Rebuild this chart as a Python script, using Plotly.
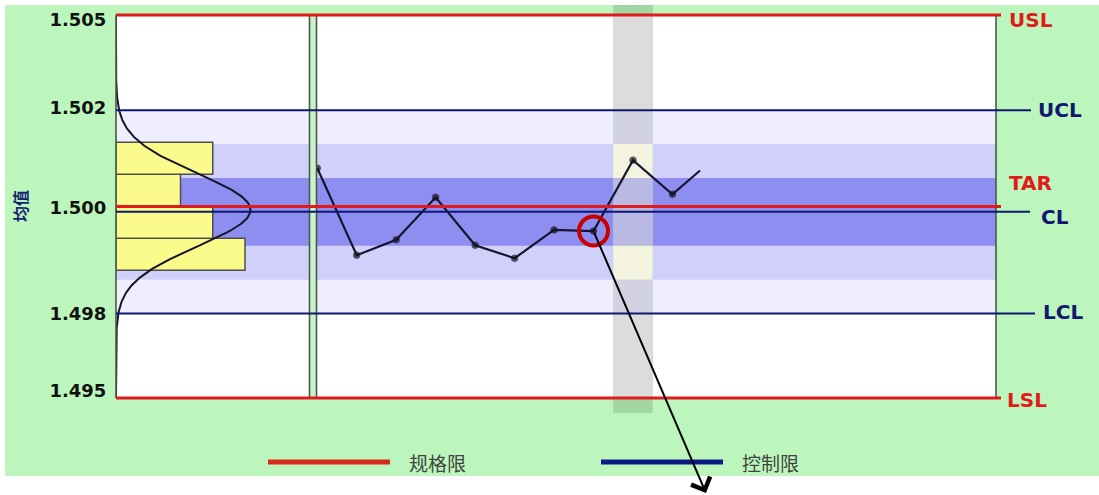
import numpy as np
import plotly.graph_objects as go

# ---------------- data ----------------
samples = [1, 2, 3, 4, 5, 6, 7, 8, 9, 10, 10.7]
sample_means = [1.50100, 1.49873, 1.49913, 1.50024, 1.49899, 1.49865,
                1.49939, 1.49936, 1.50121, 1.50032, 1.50094]

USL = 1.505
LSL = 1.495
TAR = 1.500
CL = 1.49986
SIGMA = 0.000885
UCL = CL + 3 * SIGMA
LCL = CL - 3 * SIGMA

hist_edges = [1.498334, 1.499170, 1.500005, 1.500841, 1.501676]
hist_counts = [4, 3, 2, 3]

curve_mean = 1.49991
curve_sigma = 0.00095
curve_peak = 4.17

tick_values = [1.50487, 1.50259, 1.49996, 1.49719, 1.49518]
tick_labels = ["1.505", "1.502", "1.500", "1.498", "1.495"]

limit_names = ["USL", "UCL", "TAR", "CL", "LCL", "LSL"]
legend_labels = ["规格限", "控制限"]
y_title = "均值"

highlight_sample = 9      # shaded column
flagged_index = 7         # circled point (0-based)

# ---------------- styling / layout constants ----------------
W, H = 1099, 495
ML, MR, MT, MB = 116, 103, 5, 82
Y_RANGE = [1.49461, 1.50526]
X2_DOMAIN = [0.0, 0.21989]
X_DOMAIN = [0.22784, 1.0]
X_RANGE = [0.98, 18.2]
X2_RANGE = [0, 6]

GREEN = "#bdf6bd"
RED = "#e11b1b"
NAVY = "#0f1770"
BAND_LIGHT = "#eeeefd"
BAND_MED = "#d0d0fa"
BAND_DARK = "#8e8ef1"
COL_MARGIN = "#a3d6a3"
COL_WHITE = "#dcdcdc"
COL_LIGHT = "#d2d2e2"
COL_MED = "#f3f3df"
COL_DARK = "#b9b9e3"

def px_to_paper_y(py):
    return (H - MB - py) / (H - MT - MB)

def px_to_paper_x(px):
    return (px - ML) / (W - ML - MR)

fig = go.Figure()

# histogram (horizontal bars)
edges = np.array(hist_edges)
centers = (edges[:-1] + edges[1:]) / 2
bw = float(np.mean(np.diff(edges)))
fig.add_trace(go.Bar(
    orientation="h", x=hist_counts, y=centers, width=bw, base=0,
    xaxis="x2", yaxis="y",
    marker=dict(color="#fbfb8c", line=dict(color="#4d4d4d", width=1.5)),
    hoverinfo="skip"))

# fitted normal curve
cy = np.linspace(LSL, USL, 400)
cx = curve_peak * np.exp(-0.5 * ((cy - curve_mean) / curve_sigma) ** 2)
fig.add_trace(go.Scatter(x=cx, y=cy, mode="lines", xaxis="x2", yaxis="y",
                         line=dict(color="#151525", width=2), hoverinfo="skip"))

# sample means line
msizes = [6.5] * (len(samples) - 1) + [0]
fig.add_trace(go.Scatter(x=samples, y=sample_means, mode="lines+markers",
                         xaxis="x", yaxis="y",
                         line=dict(color="#15152e", width=2.2),
                         marker=dict(color="#111111", size=msizes),
                         hoverinfo="skip"))

# red circle around flagged point
fig.add_trace(go.Scatter(x=[samples[flagged_index]], y=[sample_means[flagged_index]],
                         mode="markers", xaxis="x", yaxis="y",
                         marker=dict(symbol="circle-open", size=29, color="#c80000",
                                     line=dict(color="#c80000", width=4)),
                         hoverinfo="skip"))

shapes = []
# white borders outside green area
shapes.append(dict(type="rect", xref="paper", yref="paper", x0=-0.3, x1=1.3,
                   y0=1.0, y1=1.1, fillcolor="white", line_width=0, layer="below"))
shapes.append(dict(type="rect", xref="paper", yref="paper", x0=-0.3, x1=px_to_paper_x(5),
                   y0=-0.4, y1=1.1, fillcolor="white", line_width=0, layer="below"))
shapes.append(dict(type="rect", xref="paper", yref="paper", x0=-0.3, x1=1.3,
                   y0=-0.4, y1=px_to_paper_y(476), fillcolor="white", line_width=0, layer="below"))
# white plot area
shapes.append(dict(type="rect", xref="paper", yref="y", x0=0, x1=1, y0=LSL, y1=USL,
                   fillcolor="white", line_width=0, layer="below"))
# sigma zones
for k, col in [(3, BAND_LIGHT), (2, BAND_MED), (1, BAND_DARK)]:
    shapes.append(dict(type="rect", xref="paper", yref="y", x0=0, x1=1,
                       y0=CL - k * SIGMA, y1=CL + k * SIGMA,
                       fillcolor=col, line_width=0, layer="below"))
# separator fill
shapes.append(dict(type="rect", xref="paper", yref="y", x0=X2_DOMAIN[1], x1=X_DOMAIN[0],
                   y0=LSL, y1=USL, fillcolor="#caf3ca", line_width=0, layer="below"))

# highlighted column
cx0, cx1 = highlight_sample - 0.5, highlight_sample + 0.5
shapes.append(dict(type="rect", xref="x", yref="y domain", x0=cx0, x1=cx1, y0=0, y1=1,
                   fillcolor=COL_MARGIN, line_width=0, layer="below"))
segs = [(UCL, USL, COL_WHITE), (CL + 2 * SIGMA, UCL, COL_LIGHT),
        (CL + SIGMA, CL + 2 * SIGMA, COL_MED), (CL - SIGMA, CL + SIGMA, COL_DARK),
        (CL - 2 * SIGMA, CL - SIGMA, COL_MED), (LCL, CL - 2 * SIGMA, COL_LIGHT),
        (LSL, LCL, COL_WHITE)]
for a, b, col in segs:
    shapes.append(dict(type="rect", xref="x", yref="y", x0=cx0, x1=cx1, y0=a, y1=b,
                       fillcolor=col, line_width=0, layer="below"))

# frame and separator lines
for xp in [0, 1, X2_DOMAIN[1], X_DOMAIN[0]]:
    shapes.append(dict(type="line", xref="paper", yref="y", x0=xp, x1=xp, y0=LSL, y1=USL,
                       line=dict(color="#4a574a", width=1.6), layer="above"))

# limit lines
limit_vals = [USL, UCL, TAR, CL, LCL, LSL]
limit_cols = [RED, NAVY, RED, NAVY, NAVY, RED]
limit_ends = [px_to_paper_x(1001), px_to_paper_x(1031), px_to_paper_x(1001),
              px_to_paper_x(1030), px_to_paper_x(1035), px_to_paper_x(1001)]
limit_w = [3, 2, 3, 2, 2, 3]
for v, c, e, w in zip(limit_vals, limit_cols, limit_ends, limit_w):
    shapes.append(dict(type="line", xref="paper", yref="y", x0=0, x1=e, y0=v, y1=v,
                       line=dict(color=c, width=w), layer="above"))

# legend keys
ly = px_to_paper_y(462)
shapes.append(dict(type="line", xref="paper", yref="paper", x0=px_to_paper_x(268),
                   x1=px_to_paper_x(390), y0=ly, y1=ly,
                   line=dict(color="#d42a1a", width=5), layer="above"))
shapes.append(dict(type="line", xref="paper", yref="paper", x0=px_to_paper_x(601),
                   x1=px_to_paper_x(723), y0=ly, y1=ly,
                   line=dict(color="#0c1a86", width=5), layer="above"))

annotations = []
# right-side labels
lab_x = [1007, 1036, 1007, 1039, 1041, 1005]
lab_shift = [-5, 0, 24, -5, 2, -2]
for name, v, c, lx, sh in zip(limit_names, limit_vals, limit_cols, lab_x, lab_shift):
    annotations.append(dict(xref="paper", yref="y", x=px_to_paper_x(lx), y=v,
                            yshift=sh, text=name, showarrow=False,
                            xanchor="left", yanchor="middle",
                            font=dict(family="DejaVu Sans", size=20, color=c, weight="bold")))
# y title
annotations.append(dict(xref="paper", yref="paper", x=px_to_paper_x(20), y=px_to_paper_y(206),
                        text=y_title, textangle=-90, showarrow=False,
                        xanchor="center", yanchor="middle",
                        font=dict(family="Noto Sans CJK SC", size=16, color="#15226e",
                                  weight="bold")))
# legend texts
for txt, lx in zip(legend_labels, [407, 740]):
    annotations.append(dict(xref="paper", yref="paper", x=px_to_paper_x(lx), y=ly,
                            text=txt, showarrow=False, xanchor="left", yanchor="middle",
                            font=dict(family="Noto Sans CJK SC", size=19, color="#3d453d")))
# arrow from flagged point
annotations.append(dict(xref="x", yref="y", x=10.85, y=1.49252,
                        axref="x", ayref="y",
                        ax=samples[flagged_index], ay=sample_means[flagged_index],
                        text="", showarrow=True, arrowhead=4, arrowsize=2.0,
                        arrowwidth=2, arrowcolor="black", standoff=0, startstandoff=0))

fig.update_layout(
    width=W, height=H,
    margin=dict(l=ML, r=MR, t=MT, b=MB),
    paper_bgcolor=GREEN,
    plot_bgcolor="rgba(0,0,0,0)",
    showlegend=False,
    hovermode=False,
    bargap=0,
    shapes=shapes,
    annotations=annotations,
    xaxis=dict(domain=X_DOMAIN, range=X_RANGE, anchor="y", visible=False),
    xaxis2=dict(domain=X2_DOMAIN, range=X2_RANGE, anchor="y", visible=False),
    yaxis=dict(domain=[0, 1], range=Y_RANGE, anchor="x2",
               tickvals=tick_values, ticktext=tick_labels,
               ticks="outside", ticklen=5, tickcolor="rgba(0,0,0,0)",
               showgrid=False, zeroline=False, showline=False,
               tickfont=dict(family="DejaVu Sans", size=18, color="#111111",
                             weight="bold")),
)

fig.write_html("out.html",
               config={"displayModeBar": False, "staticPlot": True},
               post_script="document.body.style.margin='0';document.body.style.overflow='hidden';")
